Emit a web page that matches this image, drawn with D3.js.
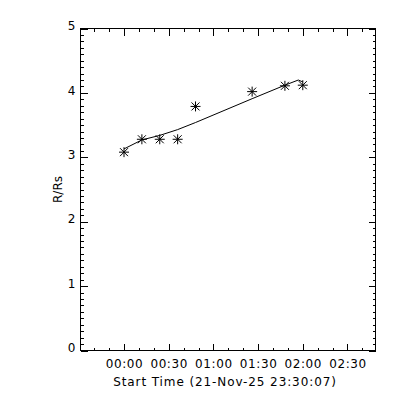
<!DOCTYPE html>
<html>
<head>
<meta charset="utf-8">
<script src="https://cdn.jsdelivr.net/npm/d3@7"></script>
<style>
  body { margin: 0; background: white; }
  text { font-family: "DejaVu Sans", sans-serif; fill: black; }
</style>
</head>
<body>
<div class="canvas"></div>
<script>
var width = 400;
var height = 400;

// height-time measurements (22-Nov UT) and radial distance R/Rs
var obsTimes = ["00:00", "00:12", "00:24", "00:36", "00:48", "01:26", "01:48", "02:00"];
var obsHeights = [3.08, 3.28, 3.28, 3.28, 3.79, 4.02, 4.11, 4.12];

// fitted curve drawn through the points
var fitTimes = ["00:00", "00:12", "00:24", "00:36", "00:48", "01:26", "01:48", "01:57", "02:00"];
var fitHeights = [3.13, 3.27, 3.34, 3.43, 3.54, 3.91, 4.12, 4.20, 4.17];

var yTicks = [0, 1, 2, 3, 4, 5];
var startLabel = "2025-11-21 23:30:48";
var endLabel = "2025-11-22 02:48:48";
var xTitle = "Start Time (21-Nov-25 23:30:07)";
var yTitle = "R/Rs";

var parseFull = d3.utcParse("%Y-%m-%d %H:%M:%S");
var parseHM = d3.utcParse("%Y-%m-%d %H:%M");
var toDate = hm => parseHM("2025-11-22 " + hm);

var plot = { left: 80.5, right: 375.5, top: 28.5, bottom: 350.5 };

var svg = d3.select(".canvas").append("svg")
    .attr("width", width)
    .attr("height", height)
    .style("background", "white");

var x = d3.scaleUtc()
    .domain([parseFull(startLabel), parseFull(endLabel)])
    .range([plot.left, plot.right]);

var y = d3.scaleLinear()
    .domain([0, 5])
    .range([plot.bottom, plot.top]);

var major = x.ticks(d3.utcMinute.every(30));
var minor = x.ticks(d3.utcMinute.every(10));
var yMinor = d3.range(0, 50).map(d => d / 10);

function tidy(g) {
    g.select(".domain").remove();
    g.selectAll("line").attr("stroke", "black").attr("shape-rendering", "crispEdges");
    g.selectAll("text").attr("font-size", 12).attr("font-family", "DejaVu Sans");
}

// bottom axis
svg.append("g").attr("transform", `translate(0,${plot.bottom})`)
    .call(d3.axisBottom(x).tickValues(minor).tickSize(-3).tickFormat(""))
    .call(tidy);
svg.append("g").attr("transform", `translate(0,${plot.bottom})`)
    .call(d3.axisBottom(x).tickValues(major).tickSize(-7).tickPadding(9).tickFormat(d3.utcFormat("%H:%M")))
    .call(tidy)
    .selectAll("text").attr("letter-spacing", "0.6px");

// top axis (ticks only)
svg.append("g").attr("transform", `translate(0,${plot.top})`)
    .call(d3.axisTop(x).tickValues(minor).tickSize(-3).tickFormat(""))
    .call(tidy);
svg.append("g").attr("transform", `translate(0,${plot.top})`)
    .call(d3.axisTop(x).tickValues(major).tickSize(-7).tickFormat(""))
    .call(tidy);

// left axis
svg.append("g").attr("transform", `translate(${plot.left},0)`)
    .call(d3.axisLeft(y).tickValues(yMinor).tickSize(-3).tickFormat(""))
    .call(tidy);
svg.append("g").attr("transform", `translate(${plot.left},0)`)
    .call(d3.axisLeft(y).tickValues(yTicks).tickSize(-7).tickPadding(5).tickFormat(d3.format("d")))
    .call(tidy)
    .selectAll("text").attr("dy", "0.1em");

// right axis (ticks only)
svg.append("g").attr("transform", `translate(${plot.right},0)`)
    .call(d3.axisRight(y).tickValues(yMinor).tickSize(-3).tickFormat(""))
    .call(tidy);
svg.append("g").attr("transform", `translate(${plot.right},0)`)
    .call(d3.axisRight(y).tickValues(yTicks).tickSize(-7).tickFormat(""))
    .call(tidy);

// frame
svg.append("rect")
    .attr("x", plot.left).attr("y", plot.top)
    .attr("width", plot.right - plot.left)
    .attr("height", plot.bottom - plot.top)
    .attr("fill", "none")
    .attr("stroke", "black")
    .attr("shape-rendering", "crispEdges");

// fit line
var line = d3.line()
    .x((d, i) => x(toDate(fitTimes[i])))
    .y(d => y(d));

svg.append("path")
    .datum(fitHeights)
    .attr("d", line)
    .attr("fill", "none")
    .attr("stroke", "black")
    .attr("stroke-width", 1);

// asterisks
var star = "M-5,0H5M0,-5V5M-4,-4L4,4M-4,4L4,-4";
svg.selectAll("path.obs")
    .data(obsHeights)
    .enter()
    .append("path")
    .attr("class", "obs")
    .attr("transform", (d, i) => `translate(${x(toDate(obsTimes[i]))},${y(d)})`)
    .attr("d", star)
    .attr("fill", "none")
    .attr("stroke", "black")
    .attr("stroke-width", 1);

// axis titles
svg.append("text")
    .attr("x", 225)
    .attr("y", 386)
    .attr("text-anchor", "middle")
    .attr("font-size", 12)
    .attr("letter-spacing", "0.9px")
    .text(xTitle);

svg.append("text")
    .attr("transform", `translate(62,${(plot.top + plot.bottom) / 2}) rotate(-90)`)
    .attr("text-anchor", "middle")
    .attr("font-size", 12)
    .text(yTitle);
</script>
</body>
</html>
